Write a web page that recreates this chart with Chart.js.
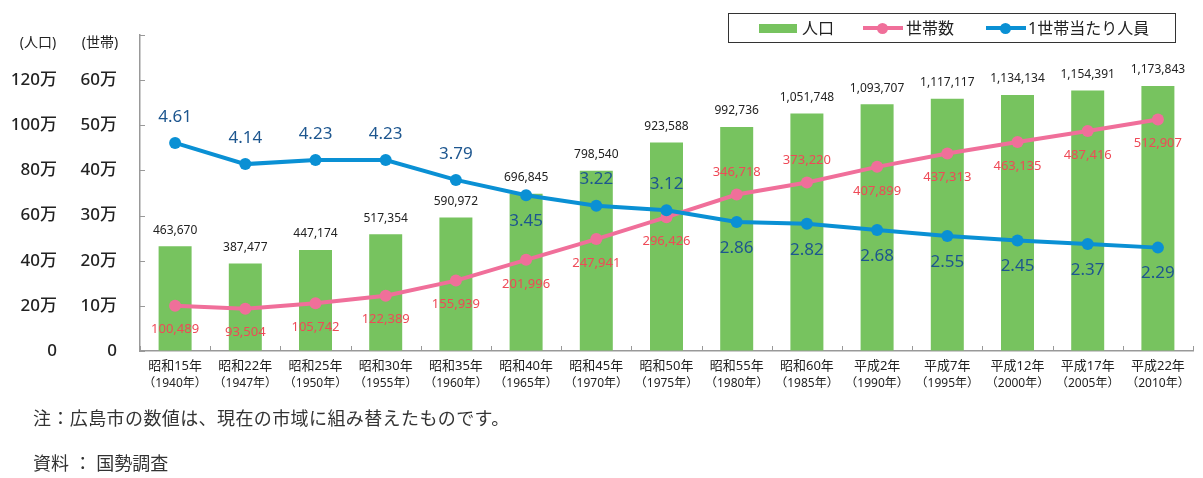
<!DOCTYPE html>
<html><head><meta charset="utf-8">
<script src="https://cdn.jsdelivr.net/npm/chart.js@4/dist/chart.umd.min.js"></script>
<style>
html,body{margin:0;padding:0;background:#fff;}
#wrap{position:relative;width:1203px;height:478px;overflow:hidden;font-family:'Noto Sans','Noto Sans CJK JP',sans-serif;color:#222;}
canvas{position:absolute;left:0;top:0;}
#legend{position:absolute;left:728px;top:13px;width:446px;height:28px;border:1px solid #333;}
#legend .sw{position:absolute;}
#legend .tx{position:absolute;top:0;height:28px;line-height:28px;font-size:16px;white-space:nowrap;}
.note{position:absolute;left:33px;font-size:18px;line-height:24px;color:#333;white-space:nowrap;}
</style></head>
<body>
<div id="wrap">
<canvas id="c" width="1203" height="478"></canvas>
<div id="legend">
  <div class="sw" style="left:30px;top:10px;width:38px;height:9px;background:#77c35f;"></div>
  <div class="tx" style="left:73px;">人口</div>
  <div class="sw" style="left:134px;top:12px;width:40px;height:4px;background:#f06f9a;"></div>
  <div class="sw" style="left:148px;top:8.5px;width:11px;height:11px;border-radius:50%;background:#f06f9a;"></div>
  <div class="tx" style="left:177px;">世帯数</div>
  <div class="sw" style="left:257px;top:12px;width:40px;height:4px;background:#0a90d4;"></div>
  <div class="sw" style="left:271px;top:8.5px;width:11px;height:11px;border-radius:50%;background:#0a90d4;"></div>
  <div class="tx" style="left:299px;">1世帯当たり人員</div>
</div>
<div class="note" style="top:406px;letter-spacing:0.4px;">注：広島市の数値は、現在の市域に組み替えたものです。</div>
<div class="note" style="top:451px;">資料 ： 国勢調査</div>
</div>
<script>
const categories = ['昭和15年','昭和22年','昭和25年','昭和30年','昭和35年','昭和40年','昭和45年','昭和50年','昭和55年','昭和60年','平成2年','平成7年','平成12年','平成17年','平成22年'];
const years = ['1940','1947','1950','1955','1960','1965','1970','1975','1980','1985','1990','1995','2000','2005','2010'];
const population = [463670,387477,447174,517354,590972,696845,798540,923588,992736,1051748,1093707,1117117,1134134,1154391,1173843];
const households = [100489,93504,105742,122389,155939,201996,247941,296426,346718,373220,407899,437313,463135,487416,512907];
const persons = [4.61,4.14,4.23,4.23,3.79,3.45,3.22,3.12,2.86,2.82,2.68,2.55,2.45,2.37,2.29];
const popTicks = [0,200000,400000,600000,800000,1000000,1200000,1400000];

// label placement (style): 1 = below point, -1 = above
const personsSide = [-1,-1,-1,-1,-1,1,-1,-1,1,1,1,1,1,1,1];
const householdsSide = [1,1,1,1,1,1,1,1,-1,-1,1,1,1,1,1];

const FONT = "'Noto Sans','Noto Sans CJK JP',sans-serif";
const AXIS = '#999';
const manLabel = v => v === 0 ? '0' : (v / 10000) + '万';

const extras = {
  id: 'extras',
  afterDatasetsDraw(chart) {
    const ctx = chart.ctx, ca = chart.chartArea;
    const xs = chart.scales.x, ys = chart.scales.y;
    ctx.save();
    // inside ticks
    ctx.strokeStyle = AXIS; ctx.lineWidth = 1;
    popTicks.forEach(v => {
      const y = Math.round(ys.getPixelForValue(v)) + 0.5;
      ctx.beginPath(); ctx.moveTo(ca.left, y); ctx.lineTo(ca.left + 5, y); ctx.stroke();
    });
    for (let i = 0; i <= categories.length; i++) {
      const x = Math.round(ca.left + i * (ca.right - ca.left) / categories.length) + 0.5;
      ctx.beginPath(); ctx.moveTo(x, ca.bottom); ctx.lineTo(x, ca.bottom - 5); ctx.stroke();
    }
    ctx.textAlign = 'center'; ctx.textBaseline = 'middle';
    // population labels
    const mBar = chart.getDatasetMeta(2);
    ctx.font = '12px ' + FONT; ctx.fillStyle = '#222';
    mBar.data.forEach((el, i) => ctx.fillText(population[i].toLocaleString('en-US'), el.x, el.y - 16));
    // households labels
    const mHh = chart.getDatasetMeta(1);
    ctx.font = '13px ' + FONT; ctx.fillStyle = '#ef4a57';
    mHh.data.forEach((el, i) => ctx.fillText(households[i].toLocaleString('en-US'), el.x, el.y + (householdsSide[i] > 0 ? 24 : -22)));
    // persons labels
    const mP = chart.getDatasetMeta(0);
    ctx.font = '17px ' + FONT; ctx.fillStyle = '#1d568f';
    mP.data.forEach((el, i) => ctx.fillText(persons[i].toFixed(2), el.x, el.y + personsSide[i] * 26));
    // x labels
    ctx.fillStyle = '#222';
    categories.forEach((c, i) => {
      const x = xs.getPixelForValue(i);
      ctx.font = '13px ' + FONT; ctx.fillText(c, x, 366);
      ctx.font = '12px ' + FONT; ctx.fillText('（' + years[i] + '年）', x, 384);
    });
    // axis headers
    ctx.font = '14px ' + FONT;
    ctx.fillText('(人口)', 38, 43);
    ctx.fillText('(世帯)', 100, 43);
    ctx.restore();
  }
};

new Chart(document.getElementById('c'), {
  type: 'bar',
  data: {
    labels: categories,
    datasets: [
      { type: 'line', label: '1世帯当たり人員', data: persons, yAxisID: 'y2', order: 0,
        borderColor: '#0a90d4', backgroundColor: '#0a90d4', borderWidth: 4,
        pointRadius: 6, pointBorderWidth: 0, pointBackgroundColor: '#0a90d4', tension: 0 },
      { type: 'line', label: '世帯数', data: households, yAxisID: 'y1', order: 1,
        borderColor: '#f06f9a', backgroundColor: '#f06f9a', borderWidth: 4,
        pointRadius: 6, pointBorderWidth: 0, pointBackgroundColor: '#f06f9a', tension: 0 },
      { type: 'bar', label: '人口', data: population, yAxisID: 'y', order: 2,
        backgroundColor: '#77c35f', barPercentage: 0.47, categoryPercentage: 1 }
    ]
  },
  options: {
    responsive: false, animation: false,
    layout: { padding: { left: 0, top: 35, right: 10, bottom: 0 } },
    plugins: { legend: { display: false }, tooltip: { enabled: false } },
    scales: {
      x: {
        offset: true,
        grid: { display: false, drawOnChartArea: false, drawTicks: false },
        border: { display: true, color: AXIS, width: 1.5 },
        ticks: { display: false },
        afterFit: s => { s.height = 127; }
      },
      y: {
        position: 'left', weight: 2, min: 0, max: 1400000,
        grid: { drawOnChartArea: false, drawTicks: false },
        border: { display: false },
        ticks: { stepSize: 200000, padding: 7, color: '#222', font: { family: FONT, size: 17, weight: '500' },
          callback: v => v >= 1400000 ? '' : manLabel(v) },
        afterFit: s => { s.width = 64; }
      },
      y1: {
        position: 'left', weight: 1, min: 0, max: 700000,
        grid: { drawOnChartArea: false, drawTicks: false },
        border: { display: true, color: AXIS, width: 1.5 },
        ticks: { stepSize: 100000, padding: 23, color: '#222', font: { family: FONT, size: 17, weight: '500' },
          callback: v => v >= 700000 ? '' : manLabel(v) },
        afterFit: s => { s.width = 76; }
      },
      y2: { display: false, min: 0, max: 7 }
    }
  },
  plugins: [extras]
});
</script>
</body></html>
